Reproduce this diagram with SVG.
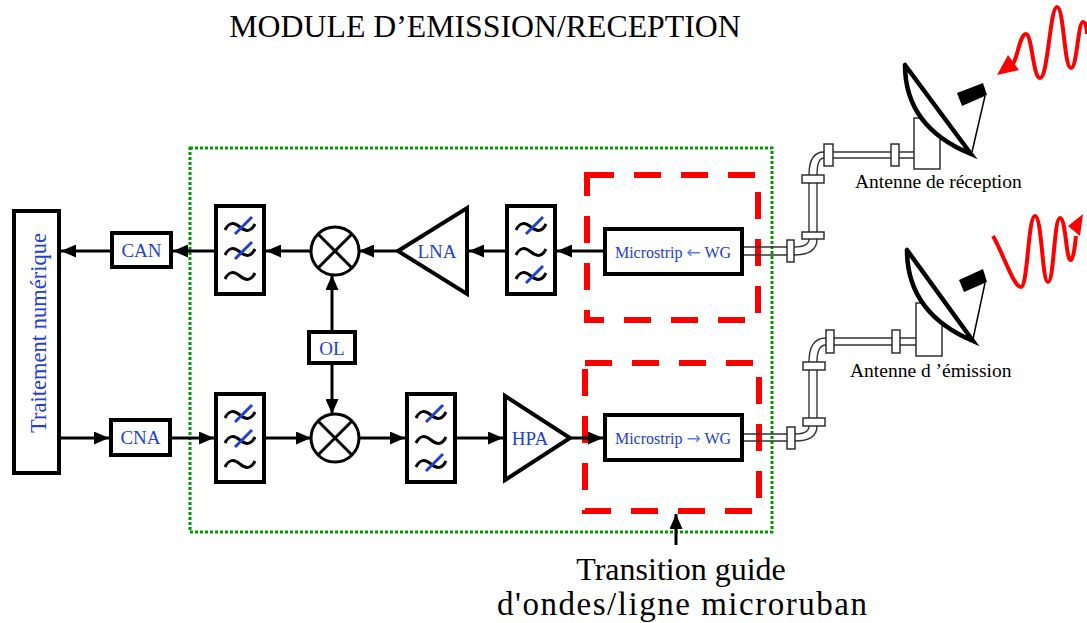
<svg xmlns="http://www.w3.org/2000/svg" width="1087" height="623" viewBox="0 0 1087 623">
  <style>
    .blk { fill: #fff; stroke: #000; stroke-width: 4; }
    .lbl { font-family: "Liberation Serif", "Times New Roman", serif; fill: #1f40d2; text-anchor: middle; dominant-baseline: central; }
    .arw { font-family: "DejaVu Sans", sans-serif; fill: #5f82e0; }
    .cap { font-family: "Liberation Serif", "Times New Roman", serif; fill: #000; }
    .wire { stroke: #000; stroke-width: 3; fill: none; }
    .arr { marker-end: url(#ah); }
    .wg { stroke: #333; stroke-width: 1.4; fill: none; }
    .fl { fill: #fff; stroke: #222; stroke-width: 1.4; }
    .dish { fill: none; stroke: #000; stroke-width: 4.5; stroke-linecap: round; }
    .wave { fill: none; stroke: #f00; stroke-width: 4; stroke-linejoin: round; }
    .tx { fill: none; stroke: #f00; stroke-width: 6; stroke-dasharray: 27 20; }
  </style>
  <defs>
    <marker id="ah" viewBox="0 0 15 13" refX="15" refY="6.5" markerWidth="15" markerHeight="13" markerUnits="userSpaceOnUse" orient="auto">
      <path d="M0,0 L15,6.5 L0,13 z" fill="#000"/>
    </marker>
    <path id="tl" d="M-15,3 C-11,-5 -6,-5 0,0 C6,5 11,5 15,-3" fill="none" stroke="#000" stroke-width="3"/>
    <line id="sl" x1="-7" y1="9" x2="10" y2="-8" stroke="#1f40d2" stroke-width="3"/>
    <g id="mix">
      <circle r="24" fill="#fff" stroke="#000" stroke-width="3"/>
      <path d="M-17,-17 L17,17 M17,-17 L-17,17" stroke="#000" stroke-width="3"/>
    </g>
  </defs>

  <rect width="1087" height="623" fill="#fff"/>

  <!-- title -->
  <text class="cap" x="485" y="37" font-size="31.8" text-anchor="middle">MODULE D’EMISSION/RECEPTION</text>

  <!-- module enclosure -->
  <rect x="190" y="148" width="582" height="384" fill="none" stroke="#009900" stroke-width="3" stroke-dasharray="3 2"/>

  <!-- waveguide / microstrip transition zones -->
  <rect class="tx" x="587" y="175" width="171" height="145"/>
  <rect class="tx" x="585" y="363" width="174" height="148"/>

  <g id="traitement">
    <rect class="blk" x="14" y="211" width="45" height="262"/>
    <text class="lbl" font-size="22.5" transform="translate(38,333) rotate(-90)">Traitement numérique</text>
  </g>

  <g id="can">
    <rect class="blk" x="112" y="233" width="59" height="34"/>
    <text class="lbl" x="141.5" y="250" font-size="19">CAN</text>
  </g>
  <g id="cna">
    <rect class="blk" x="111" y="420" width="59" height="35"/>
    <text class="lbl" x="140.5" y="437.5" font-size="19">CNA</text>
  </g>

  <g id="filtre-rx1" transform="translate(216,206)">
    <rect class="blk" width="48" height="88"/>
    <use href="#tl" x="24" y="21"/><use href="#sl" x="26" y="19"/>
    <use href="#tl" x="24" y="46"/><use href="#sl" x="26" y="44"/>
    <use href="#tl" x="24" y="70"/>
  </g>
  <g id="filtre-rx2" transform="translate(507,206)">
    <rect class="blk" width="48" height="88"/>
    <use href="#tl" x="24" y="21"/><use href="#sl" x="26" y="19"/>
    <use href="#tl" x="24" y="46"/>
    <use href="#tl" x="24" y="70"/><use href="#sl" x="26" y="68"/>
  </g>
  <g id="filtre-tx1" transform="translate(216,394)">
    <rect class="blk" width="48" height="88"/>
    <use href="#tl" x="24" y="21"/><use href="#sl" x="26" y="19"/>
    <use href="#tl" x="24" y="46"/><use href="#sl" x="26" y="44"/>
    <use href="#tl" x="24" y="70"/>
  </g>
  <g id="filtre-tx2" transform="translate(407,394)">
    <rect class="blk" width="48" height="88"/>
    <use href="#tl" x="24" y="21"/><use href="#sl" x="26" y="19"/>
    <use href="#tl" x="24" y="46"/>
    <use href="#tl" x="24" y="70"/><use href="#sl" x="26" y="68"/>
  </g>

  <g id="melangeur-rx"><use href="#mix" x="335" y="251"/></g>
  <g id="melangeur-tx"><use href="#mix" x="335" y="438"/></g>

  <g id="ol">
    <rect class="blk" x="309" y="332" width="46" height="31"/>
    <text class="lbl" x="332" y="348" font-size="19">OL</text>
  </g>

  <g id="lna">
    <polygon class="blk" points="398,251 467,208 467,294"/>
    <text class="lbl" x="437" y="251" font-size="19">LNA</text>
  </g>
  <g id="hpa">
    <polygon class="blk" points="505,396 505,480 570,438"/>
    <text class="lbl" x="530" y="438" font-size="19">HPA</text>
  </g>

  <g id="transition-rx">
    <rect class="blk" x="605" y="229" width="137" height="45" stroke-width="3.5"/>
    <text class="lbl" x="673" y="252" font-size="16">Microstrip <tspan class="arw" font-size="17">←</tspan> WG</text>
  </g>
  <g id="transition-tx">
    <rect class="blk" x="605" y="415" width="137" height="45" stroke-width="3.5"/>
    <text class="lbl" x="673" y="438" font-size="16">Microstrip <tspan class="arw" font-size="17">→</tspan> WG</text>
  </g>

  <!-- waveguide run to receive antenna -->
  <g id="guide-rx">
    <path class="wg" d="M744,247 H787 M744,255 H787"/>
    <path class="wg" d="M794,247 Q809,247 809,239 M794,255 Q817,255 817,239"/>
    <path class="wg" d="M809,183 V232 M817,183 V232"/>
    <path class="wg" d="M809,175 Q809,152 824,152 M817,175 Q817,158 824,158"/>
    <path class="wg" d="M833,152 H891 M833,158 H891 M899,152 H914 M899,158 H914"/>
    <rect class="fl" x="787" y="240" width="7" height="22"/>
    <rect class="fl" x="802" y="232" width="22" height="7"/>
    <rect class="fl" x="802" y="175" width="22" height="8"/>
    <rect class="fl" x="824" y="144" width="9" height="22"/>
    <rect class="fl" x="891" y="144" width="8" height="22"/>
  </g>
  <!-- waveguide run to transmit antenna -->
  <g id="guide-tx">
    <path class="wg" d="M744,434 H787 M744,441 H787"/>
    <path class="wg" d="M795,434 Q809,434 809,426 M795,441 Q817,441 817,426"/>
    <path class="wg" d="M809,370 V418 M817,370 V418"/>
    <path class="wg" d="M809,362 Q809,338 826,338 M817,362 Q817,345 826,345"/>
    <path class="wg" d="M834,338 H892 M834,345 H892 M900,338 H916 M900,345 H916"/>
    <rect class="fl" x="787" y="427" width="8" height="22"/>
    <rect class="fl" x="803" y="418" width="22" height="8"/>
    <rect class="fl" x="803" y="362" width="22" height="8"/>
    <rect class="fl" x="826" y="330" width="8" height="23"/>
    <rect class="fl" x="892" y="330" width="8" height="23"/>
  </g>

  <g id="antenne-rx">
    <rect class="fl" x="914" y="118" width="26" height="51"/>
    <path d="M905,65 Q905,127 971,154 Z" fill="#fff" stroke="none"/>
    <path class="dish" d="M905,65 Q905,127 971,154 L905,65"/>
    <polygon points="957,93 983,83 987,95 962,106" fill="#000"/>
    <line x1="985" y1="96" x2="972" y2="152" stroke="#000" stroke-width="1.5"/>
    <text class="cap" x="855" y="188" font-size="19.5">Antenne de réception</text>
    <path class="wave" d="M1013,64 C1018,56 1020,34 1026,34 C1032,34 1033,78 1040,78 C1048,78 1050,7 1057,7 C1064,7 1064,68 1071,68 C1077,68 1078,22 1083,22 C1086,22 1087,30 1087,34"/>
    <polygon points="997,75 1008,55 1019,70" fill="#f00"/>
  </g>

  <g id="antenne-tx">
    <rect class="fl" x="916" y="303" width="26" height="53"/>
    <path d="M907,250 Q907,313 973,341 Z" fill="#fff" stroke="none"/>
    <path class="dish" d="M907,250 Q907,313 973,341 L907,250"/>
    <polygon points="959,280 983,269 987,282 964,292" fill="#000"/>
    <line x1="985" y1="283" x2="973" y2="339" stroke="#000" stroke-width="1.5"/>
    <text class="cap" x="850" y="377" font-size="19.5">Antenne d ’émission</text>
    <path class="wave" d="M993,236 C1003,253 1014,288 1021,287 C1028,286 1028,216 1035,216 C1042,216 1042,282 1048,282 C1054,282 1054,218 1060,218 C1066,218 1066,262 1071,260 C1074,258 1075,244 1076,236"/>
    <polygon points="1083,214 1068,226 1080,236" fill="#f00"/>
  </g>

  <text class="cap" x="681" y="580" font-size="32" text-anchor="middle">Transition guide</text>
  <text class="cap" x="682" y="615" font-size="33" text-anchor="middle" textLength="370" lengthAdjust="spacing">d'ondes/ligne microruban</text>

  <g id="liaisons">
    <line class="wire arr" x1="605" y1="251" x2="557" y2="251"/>
    <line class="wire arr" x1="507" y1="251" x2="469" y2="251"/>
    <line class="wire arr" x1="398" y1="251" x2="359" y2="251"/>
    <line class="wire arr" x1="311" y1="251" x2="266" y2="251"/>
    <line class="wire arr" x1="216" y1="251" x2="173" y2="251"/>
    <line class="wire arr" x1="112" y1="251" x2="61" y2="251"/>
    <line class="wire arr" x1="61" y1="438" x2="109" y2="438"/>
    <line class="wire arr" x1="172" y1="438" x2="214" y2="438"/>
    <line class="wire arr" x1="266" y1="438" x2="311" y2="438"/>
    <line class="wire arr" x1="359" y1="438" x2="405" y2="438"/>
    <line class="wire arr" x1="457" y1="438" x2="503" y2="438"/>
    <line class="wire arr" x1="570" y1="438" x2="603" y2="438"/>
    <line class="wire arr" x1="332" y1="330" x2="332" y2="275"/>
    <line class="wire arr" x1="332" y1="365" x2="332" y2="414"/>
    <line class="wire arr" x1="676" y1="545" x2="676" y2="514"/>
  </g>
</svg>
